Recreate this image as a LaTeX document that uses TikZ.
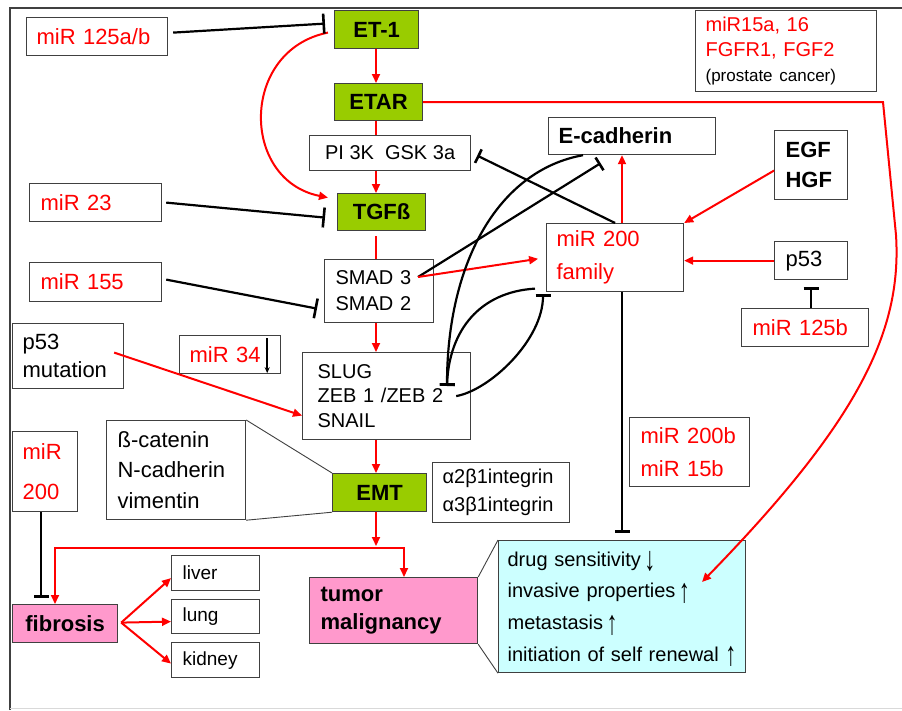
\documentclass[tikz,border=0pt]{standalone}
\usepackage{fontspec}
\setmainfont{Liberation Sans}
\usetikzlibrary{arrows.meta,calc}
\definecolor{grn}{HTML}{99CC00}
\definecolor{pnk}{HTML}{FF99CC}
\definecolor{cyn}{HTML}{CCFFFF}
\definecolor{bord}{HTML}{404040}
\definecolor{rd}{HTML}{FF0000}
\newcommand\myup{\smash{\raisebox{-0.22em}{\scalebox{1.1}[1.7]{↑}}}}
\newcommand\mydown{\smash{\raisebox{-0.22em}{\scalebox{1.1}[1.7]{↓}}}}
\begin{document}
\begin{tikzpicture}[x=1pt,y=-1pt,
 box/.style={draw=bord, line width=1.2pt, fill=white, inner sep=0pt, anchor=north west},
 gbox/.style={box, fill=grn, font=\bfseries\fontsize{22}{26}\selectfont},
 pbox/.style={box, fill=pnk},
 lbox/.style={box, align=left},
 act/.style={draw=rd, line width=2pt, -{Triangle[length=9pt,width=8pt]}},
 redln/.style={draw=rd, line width=2pt},
 inh/.style={draw=black, line width=2.2pt, -{Bar[width=#1,line width=2.6pt]}},
 inh/.default=15pt,
 call/.style={draw=bord, line width=0.9pt}
]
\useasboundingbox (0,0) rectangle (902,710);
\fill[white] (0,0) rectangle (902,710);
% frame
\draw[bord, line width=1.5pt] (10,710) -- (10,8) -- (902,8);
\draw[gray!30, line width=1pt] (10,708) -- (902,708);

% central column
\node[gbox, minimum width=84pt, minimum height=38pt] (et1) at (334,10) {ET-1};
\node[gbox, minimum width=88pt, minimum height=37pt] (etar) at (334,83) {ETAR};
\node[box, minimum width=161pt, minimum height=35pt, font=\fontsize{20}{24}\selectfont] (pi3k) at (309,135) {PI 3K~~GSK 3a};
\node[gbox, minimum width=88pt, minimum height=37pt] (tgf) at (337,193) {TGFß};
\node[lbox, minimum width=109pt, minimum height=63pt, inner xsep=11pt, text width=87pt, font=\fontsize{20}{26}\selectfont] (smad) at (324,259) {SMAD 3\\SMAD 2};
\node[lbox, minimum width=168pt, minimum height=87pt, inner xsep=15pt, text width=138pt, font=\fontsize{20}{24.5}\selectfont] (slug) at (302,352) {SLUG\\ZEB 1 /ZEB 2\\SNAIL};
\node[gbox, minimum width=94pt, minimum height=38pt] (emt) at (332,473) {EMT};
\node[lbox, minimum width=137pt, minimum height=60pt, inner xsep=10pt, text width=117pt, font=\fontsize{20}{28}\selectfont] (integ) at (432,462) {α2β1integrin\\α3β1integrin};

% left column
\node[lbox, minimum width=141pt, minimum height=38pt, inner xsep=10pt, text width=121pt, text=rd, font=\fontsize{22}{26}\selectfont] (m125ab) at (26,17) {miR 125a/b};
\node[lbox, minimum width=132pt, minimum height=38pt, inner xsep=11pt, text width=110pt, text=rd, font=\fontsize{22}{26}\selectfont] (m23) at (29,183) {miR 23};
\node[lbox, minimum width=132pt, minimum height=39pt, inner xsep=11pt, text width=110pt, text=rd, font=\fontsize{22}{26}\selectfont] (m155) at (29,262) {miR 155};
\node[lbox, minimum width=111pt, minimum height=65pt, inner xsep=10pt, text width=91pt, font=\fontsize{22}{28}\selectfont] (p53m) at (12,323) {p53\\mutation};
\node[lbox, minimum width=101pt, minimum height=38pt, inner xsep=10pt, text width=81pt, text=rd, font=\fontsize{22}{26}\selectfont] (m34) at (179,335) {miR 34};
\node[lbox, minimum width=65pt, minimum height=80pt, inner xsep=10pt, text width=45pt, text=rd, font=\fontsize{22}{40}\selectfont] (m200l) at (12,431) {miR\\200};
\node[lbox, minimum width=139pt, minimum height=99pt, inner xsep=11pt, text width=117pt, font=\fontsize{22}{30.5}\selectfont] (bcat) at (106,420) {ß-catenin\\N-cadherin\\vimentin};
\node[pbox, minimum width=105pt, minimum height=38pt, font=\bfseries\fontsize{22}{26}\selectfont] (fib) at (12,604) {fibrosis};
\node[lbox, minimum width=88pt, minimum height=35pt, inner xsep=11pt, text width=66pt, font=\fontsize{19}{23}\selectfont] (liver) at (171,555) {liver};
\node[lbox, minimum width=88pt, minimum height=34pt, inner xsep=11pt, text width=66pt, font=\fontsize{19}{23}\selectfont] (lung) at (171,599) {lung};
\node[lbox, minimum width=88pt, minimum height=35pt, inner xsep=11pt, text width=66pt, font=\fontsize{19}{23}\selectfont] (kidney) at (171,642) {kidney};
\node[pbox, align=left, minimum width=168pt, minimum height=66pt, inner xsep=11pt, text width=146pt, font=\bfseries\fontsize{22}{28}\selectfont] (tumor) at (309,577) {tumor\\malignancy};

% right column
\node[lbox, minimum width=181pt, minimum height=81pt, inner xsep=10pt, text width=161pt, font=\fontsize{20}{25}\selectfont] (m15a) at (695,10) {\textcolor{rd}{miR15a, 16}\\\textcolor{rd}{FGFR1, FGF2}\\{\fontsize{17}{24}\selectfont (prostate cancer)}};
\node[lbox, minimum width=167pt, minimum height=37pt, inner xsep=10pt, text width=147pt, font=\bfseries\fontsize{22}{26}\selectfont] (ecad) at (548,117) {E-cadherin};
\node[lbox, minimum width=73pt, minimum height=69pt, inner xsep=11pt, text width=51pt, font=\bfseries\fontsize{22}{30}\selectfont] (egf) at (774,130) {EGF\\HGF};
\node[lbox, minimum width=137pt, minimum height=68pt, inner xsep=10pt, text width=117pt, text=rd, font=\fontsize{22}{33}\selectfont] (m200f) at (546,223) {miR 200\\family};
\node[lbox, minimum width=73pt, minimum height=38pt, inner xsep=11pt, text width=51pt, font=\fontsize{22}{26}\selectfont] (p53) at (774,241) {p53};
\node[lbox, minimum width=127pt, minimum height=38pt, inner xsep=11pt, text width=105pt, text=rd, font=\fontsize{22}{26}\selectfont] (m125b) at (741,308) {miR 125b};
\node[lbox, minimum width=120pt, minimum height=69pt, inner xsep=11pt, text width=98pt, text=rd, font=\fontsize{22}{33}\selectfont] (m200b) at (629,417) {miR 200b\\miR 15b};
\node[lbox, fill=cyn, minimum width=247pt, minimum height=132pt, inner xsep=9pt, text width=229pt, font=\fontsize{20}{31.7}\selectfont] (cyan) at (498,540) {\mbox{drug sensitivity\,\mydown}\\\mbox{invasive properties\,\myup}\\\mbox{metastasis\,\myup}\\\mbox{initiation of self renewal \myup}};

% helper coordinates
\coordinate (vx) at (376,0);
\coordinate (mx) at (622,0);
\coordinate (lx) at (41,0);
\coordinate (jl) at (55,548);
\coordinate (jr) at (404,548);
\coordinate (c1) at (883,0);
\coordinate (c2) at (896,235);
\coordinate (ctip) at (702,582);
\coordinate (zb) at (447,386);
\coordinate (s3) at (418,277);

% small arrow in miR 34
\draw[line width=1.5pt, -{Stealth[length=6pt,width=5pt]}] ([xshift=-14pt,yshift=-3pt]m34.north east) -- ([xshift=-14pt,yshift=1pt]m34.south east);

% callout lines
\draw[call] (bcat.north east) -- (emt.north west);
\draw[call] (bcat.south east) -- (emt.south west);
\draw[call] (tumor.north east) -- (cyan.north west);
\draw[call] (tumor.south east) -- (cyan.south west);

% central red chain
\draw[act] (vx |- et1.south) -- (vx |- etar.north);
\draw[redln] (vx |- etar.south) -- (vx |- pi3k.north);
\draw[act] (vx |- pi3k.south) -- (vx |- tgf.north);
\draw[redln, shorten <=5pt] (vx |- tgf.south) -- (vx |- smad.north);
\draw[act] (vx |- smad.south) -- (vx |- slug.north);
\draw[act] (vx |- slug.south) -- (vx |- emt.north);
\draw[act, shorten >=2pt] (vx |- emt.south) -- (vx |- jl);
\draw[redln, {Triangle[length=9pt,width=8pt]}-{Triangle[length=9pt,width=8pt]}] (jl |- fib.north) -- (jl) -- (jr) -- (jr |- tumor.north);

% ET-1 -> TGF curve
\draw[act] ([xshift=-6pt,yshift=-3pt]et1.west) .. controls (240,50) and (240,180) .. ([xshift=-9pt,yshift=14.5pt]tgf.west);

% ETAR -> cyan long curve
\draw[act] (etar.east) -- (etar.east -| c1) -- (c2) .. controls (902,330) and (860,420) .. (ctip);

% left inhibitions
\draw[inh=20pt] ([xshift=5pt,yshift=4pt]m125ab.east) -- ([xshift=-9pt,yshift=6pt]et1.west);
\draw[inh=20pt] ([xshift=4pt]m23.east) -- ([xshift=-12pt,yshift=-5.5pt]tgf.west);
\draw[inh=20pt] ([xshift=4pt,yshift=2.5pt]m155.east) -- ([xshift=-7pt,yshift=-17.5pt]smad.west);
\draw[inh, shorten >=6pt] (lx |- m200l.south) -- (lx |- fib.north);

% p53 mutation -> SLUG
\draw[act] ([xshift=-10pt,yshift=3.5pt]p53m.east) -- ([yshift=-19.5pt]slug.west);

% fibrosis -> organs
\draw[act] ([xshift=3pt,yshift=1pt]fib.east) -- ([yshift=-5pt]liver.west);
\draw[act] ([xshift=3pt,yshift=1pt]fib.east) -- ([yshift=-5pt]lung.west);
\draw[act] ([xshift=3pt,yshift=1pt]fib.east) -- ([yshift=-3.5pt]kidney.west);

% middle network
\draw[inh] (m200f.north) -- ([xshift=6pt,yshift=-2.5pt]pi3k.east);
\draw[inh] (s3) -- ([xshift=-31.5pt,yshift=-8pt]ecad.south);
\draw[act, shorten >=8pt] (s3) -- (m200f.west);
\draw[inh] ([xshift=35pt]ecad.south west) .. controls (500,170) and (447,260) .. (zb);
\draw[inh] ([xshift=-11pt,yshift=-31pt]m200f.west) .. controls (480,292) and (449,330) .. (zb);
\draw[inh] ([xshift=-15pt]slug.east) .. controls (490,390) and (543,340) .. ([xshift=-3pt,yshift=-2pt]m200f.south west);

% right side
\draw[act] (mx |- m200f.north) -- (mx |- ecad.south);
\draw[inh, shorten >=7pt] (mx |- m200f.south) -- (mx |- cyan.north);
\draw[act] ([yshift=-5.5pt]egf.west) -- (m200f.north east);
\draw[act] (p53.west) -- (p53.west -| m200f.east);
\draw[inh, shorten >=7pt] (p53.south |- m125b.north) -- (p53.south);
\end{tikzpicture}
\end{document}
